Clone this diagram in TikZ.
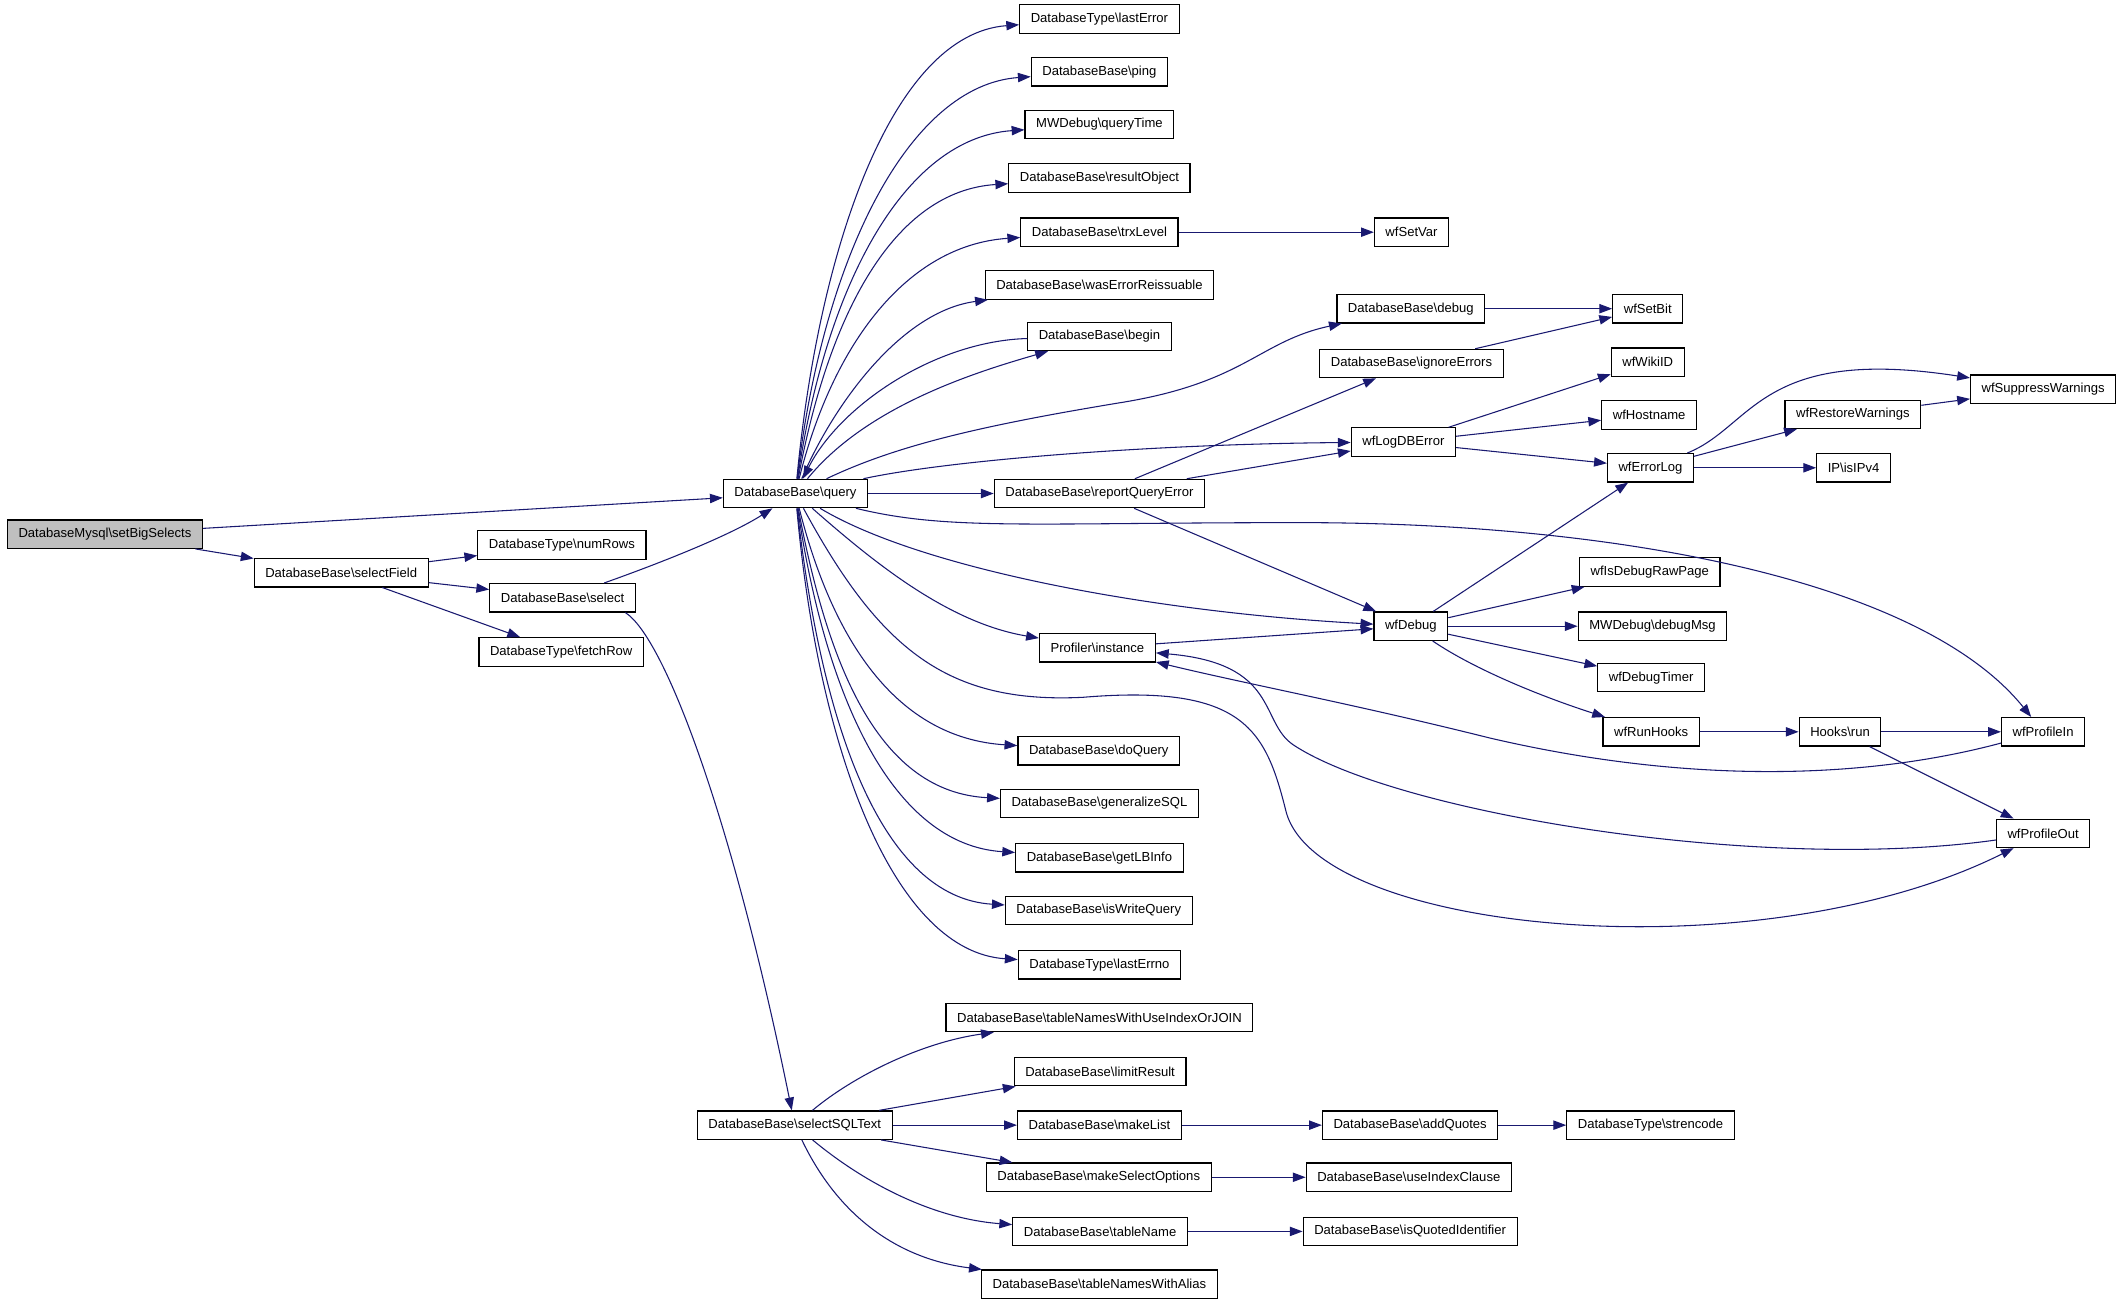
\documentclass[tikz,border=0pt]{standalone}
\usepackage{fontspec}
\setmainfont{Liberation Sans}
\usetikzlibrary{arrows.meta}
\definecolor{edgeblue}{RGB}{25,25,112}
\definecolor{rootgray}{RGB}{191,191,191}
\newcommand{\nsep}{\textbackslash{}}

\begin{document}
\begin{tikzpicture}[x=1.0155pt, y=-1.0155pt,
    every node/.style={font=\fontsize{9.8}{11}\selectfont},
    fn/.style={draw=black, line width=0.9pt, fill=white, rectangle, minimum height=21.3pt, inner xsep=8.3pt, inner ysep=0pt},
    root/.style={fn, fill=rootgray},
    call/.style={-{Triangle[length=9.6pt,width=7pt]}, draw=edgeblue, line width=0.8pt}]
    \useasboundingbox (0,0) rectangle (1568,965.3);

    % Caller - grey box at the far left
    \node[root] (setBigSelects) at (77.5,394.5) {DatabaseMysql\nsep setBigSelects};

    % First level - selectField and its callees
    \node[fn] (selectField) at (252,423) {DatabaseBase\nsep selectField};
    \node[fn] (numRows) at (415,402.5) {DatabaseType\nsep numRows};
    \node[fn] (select) at (415.5,441.5) {DatabaseBase\nsep select};
    \node[fn] (fetchRow) at (414.5,481.5) {DatabaseType\nsep fetchRow};
    \node[fn] (query) at (587.5,364.5) {DatabaseBase\nsep query};
    \node[fn] (selectSQLText) at (587,831) {DatabaseBase\nsep selectSQLText};

    % Callees of query - one column
    \node[fn] (lastError) at (812,14) {DatabaseType\nsep lastError};
    \node[fn] (ping) at (812,53) {DatabaseBase\nsep ping};
    \node[fn] (queryTime) at (812,92) {MWDebug\nsep queryTime};
    \node[fn] (resultObject) at (812,131.5) {DatabaseBase\nsep resultObject};
    \node[fn] (trxLevel) at (812,171.5) {DatabaseBase\nsep trxLevel};
    \node[fn] (wasErrorReissuable) at (812,210.5) {DatabaseBase\nsep wasErrorReissuable};
    \node[fn] (dbBegin) at (812,248.5) {DatabaseBase\nsep begin};
    \node[fn] (reportQueryError) at (812,364.5) {DatabaseBase\nsep reportQueryError};
    \node[fn] (instance) at (810.5,478.5) {Profiler\nsep instance};
    \node[fn] (doQuery) at (811.5,554.5) {DatabaseBase\nsep doQuery};
    \node[fn] (generalizeSQL) at (812,593.5) {DatabaseBase\nsep generalizeSQL};
    \node[fn] (getLBInfo) at (812,633.5) {DatabaseBase\nsep getLBInfo};
    \node[fn] (isWriteQuery) at (811.5,672.5) {DatabaseBase\nsep isWriteQuery};
    \node[fn] (lastErrno) at (812,712.5) {DatabaseType\nsep lastErrno};

    % Callees of selectSQLText - same column, further down
    \node[fn] (tableNamesJoin) at (812,751.5) {DatabaseBase\nsep tableNamesWithUseIndexOrJOIN};
    \node[fn] (limitResult) at (812.5,791.5) {DatabaseBase\nsep limitResult};
    \node[fn] (makeList) at (812,831) {DatabaseBase\nsep makeList};
    \node[fn] (makeSelectOptions) at (811.5,869.5) {DatabaseBase\nsep makeSelectOptions};
    \node[fn] (tableName) at (812.5,909.5) {DatabaseBase\nsep tableName};
    \node[fn] (tableNamesAlias) at (812,948.5) {DatabaseBase\nsep tableNamesWithAlias};
    \node[fn] (addQuotes) at (1041.5,831) {DatabaseBase\nsep addQuotes};
    \node[fn] (useIndexClause) at (1040.5,869.5) {DatabaseBase\nsep useIndexClause};
    \node[fn] (isQuotedIdentifier) at (1041.5,909.5) {DatabaseBase\nsep isQuotedIdentifier};
    \node[fn] (strencode) at (1219,831) {DatabaseType\nsep strencode};

    % Third column
    \node[fn] (wfSetVar) at (1042.5,171.5) {wfSetVar};
    \node[fn] (debug) at (1042,228) {DatabaseBase\nsep debug};
    \node[fn] (ignoreErrors) at (1042.5,268.5) {DatabaseBase\nsep ignoreErrors};
    \node[fn] (wfLogDBError) at (1036.5,326.5) {wfLogDBError};
    \node[fn] (wfDebug) at (1042,462.5) {wfDebug};

    % Fourth column
    \node[fn] (wfSetBit) at (1217,228) {wfSetBit};
    \node[fn] (wfWikiID) at (1217,267.5) {wfWikiID};
    \node[fn] (wfHostname) at (1218,306.5) {wfHostname};
    \node[fn] (wfErrorLog) at (1219,345.5) {wfErrorLog};
    \node[fn] (wfIsDebugRawPage) at (1218.5,422.5) {wfIsDebugRawPage};
    \node[fn] (debugMsg) at (1220.5,462.5) {MWDebug\nsep debugMsg};
    \node[fn] (wfDebugTimer) at (1219.5,500.5) {wfDebugTimer};
    \node[fn] (wfRunHooks) at (1219.5,540.5) {wfRunHooks};

    % Fifth and sixth columns
    \node[fn] (wfRestoreWarnings) at (1368.5,306) {wfRestoreWarnings};
    \node[fn] (isIPv4) at (1369,345.5) {IP\nsep isIPv4};
    \node[fn] (hooksRun) at (1359,540.5) {Hooks\nsep run};
    \node[fn] (wfSuppressWarnings) at (1509,287.5) {wfSuppressWarnings};
    \node[fn] (wfProfileIn) at (1509,540.5) {wfProfileIn};
    \node[fn] (wfProfileOut) at (1509,615.5) {wfProfileOut};

    % Edges - from the caller
    \draw[call] (setBigSelects) -- (query);
    \draw[call] (setBigSelects) -- (selectField);
    \draw[call] (selectField) -- (numRows);
    \draw[call] (selectField) -- (select);
    \draw[call] (selectField) -- (fetchRow);
    \draw[call] (select) .. controls (490,415) and (540,395) .. (query);
    \draw[call] ([xshift=-8pt]select.south east) .. controls (490,470) and (540,600) .. (selectSQLText);

    % Edges - query, upper fan
    \draw[call] (query) .. controls (605,180) and (660,25) .. (lastError);
    \draw[call] (query) .. controls (608,188) and (672,63) .. (ping);
    \draw[call] (query) .. controls (610,210) and (668,102) .. (queryTime);
    \draw[call] (query) .. controls (612,232) and (660,141) .. (resultObject);
    \draw[call] (query) .. controls (615,254) and (670,181) .. (trxLevel);
    \draw[call] (query) .. controls (615,300) and (665,230) .. (wasErrorReissuable);
    \draw[call] (query) .. controls (640,300) and (720,275) .. (dbBegin);
    \draw[call] (dbBegin) .. controls (690,252) and (620,300) .. (query);
    \draw[call] (query) .. controls (660,330) and (720,315) .. (830,297) .. controls (920,282) and (930,252) .. (debug);
    \draw[call] (query) .. controls (700,340) and (850,328) .. (wfLogDBError);
    \draw[call] (query) -- (reportQueryError);

    % Edges - query, lower fan
    \draw[call] (query) .. controls (700,392) and (760,386) .. (960,386) .. controls (1200,386) and (1420,430) .. (wfProfileIn);
    \draw[call] (query) .. controls (680,420) and (850,452) .. (wfDebug);
    \draw[call] (query) .. controls (645,415) and (700,460) .. (instance);
    \draw[call] (query) .. controls (650,480) and (700,520) .. (800,515) .. controls (920,505) and (935,540) .. (950,600) .. controls (975,690) and (1300,720) .. (wfProfileOut);
    \draw[call] (query) .. controls (615,473) and (662,545) .. (doQuery);
    \draw[call] (query) .. controls (612,495) and (650,585) .. (generalizeSQL);
    \draw[call] (query) .. controls (610,517) and (660,624) .. (getLBInfo);
    \draw[call] (query) .. controls (607,539) and (652,663) .. (isWriteQuery);
    \draw[call] (query) .. controls (605,560) and (662,703) .. (lastErrno);

    % Edges - reportQueryError and the profiler
    \draw[call] (reportQueryError) -- (ignoreErrors);
    \draw[call] (reportQueryError) -- (wfLogDBError);
    \draw[call] (reportQueryError) -- (wfDebug);
    \draw[call] (instance) -- (wfDebug);
    \draw[call] (wfProfileOut) .. controls (1300,645) and (1030,600) .. (955,550) .. controls (930,533) and (945,490) .. (instance);
    \draw[call] (wfProfileIn) .. controls (1380,575) and (1250,580) .. (1100,545) .. controls (1000,520) and (920,505) .. (instance);

    % Edges - third column onwards
    \draw[call] (trxLevel) -- (wfSetVar);
    \draw[call] (debug) -- (wfSetBit);
    \draw[call] (ignoreErrors) -- (wfSetBit);
    \draw[call] (wfLogDBError) -- (wfWikiID);
    \draw[call] (wfLogDBError) -- (wfHostname);
    \draw[call] (wfLogDBError) -- (wfErrorLog);
    \draw[call] (wfDebug) -- (wfErrorLog);
    \draw[call] (wfDebug) -- (wfIsDebugRawPage);
    \draw[call] (wfDebug) -- (debugMsg);
    \draw[call] (wfDebug) -- (wfDebugTimer);
    \draw[call] (wfDebug) .. controls (1090,495) and (1140,515) .. (wfRunHooks);
    \draw[call] (wfErrorLog) -- (wfRestoreWarnings);
    \draw[call] (wfErrorLog) -- (isIPv4);
    \draw[call] (wfErrorLog) .. controls (1295,315) and (1300,255) .. (wfSuppressWarnings);
    \draw[call] (wfRestoreWarnings) -- (wfSuppressWarnings);
    \draw[call] (wfRunHooks) -- (hooksRun);
    \draw[call] (hooksRun) -- (wfProfileIn);
    \draw[call] (hooksRun) -- (wfProfileOut);

    % Edges - selectSQLText fan
    \draw[call] (selectSQLText) .. controls (630,795) and (680,770) .. (tableNamesJoin);
    \draw[call] (selectSQLText) -- (limitResult);
    \draw[call] (selectSQLText) -- (makeList);
    \draw[call] (selectSQLText) -- (makeSelectOptions);
    \draw[call] (selectSQLText) .. controls (640,875) and (690,900) .. (tableName);
    \draw[call] (selectSQLText) .. controls (620,900) and (665,930) .. (tableNamesAlias);
    \draw[call] (makeList) -- (addQuotes);
    \draw[call] (addQuotes) -- (strencode);
    \draw[call] (makeSelectOptions) -- (useIndexClause);
    \draw[call] (tableName) -- (isQuotedIdentifier);
\end{tikzpicture}
\end{document}
